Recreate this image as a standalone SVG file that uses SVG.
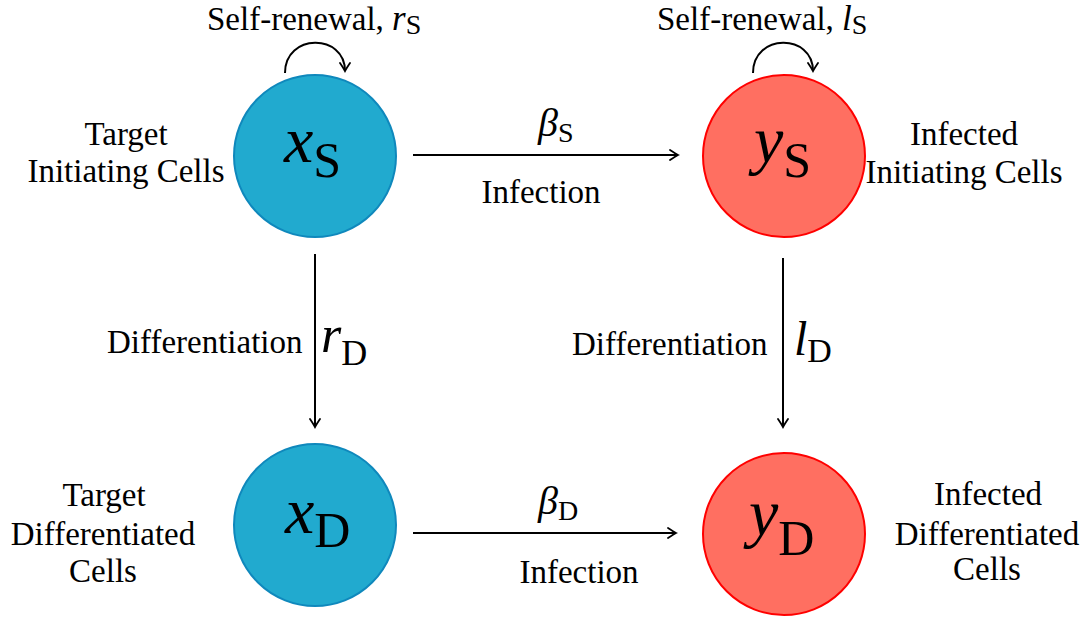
<svg xmlns="http://www.w3.org/2000/svg" width="1088" height="617" viewBox="0 0 1088 617">
<defs>
<style>
.lbl{font-family:'Liberation Serif','Times New Roman',serif;font-size:33px;fill:#000}
.mid{text-anchor:middle}
.ital{font-style:italic}
.up{font-style:normal}
.blue{fill:#21aacf;stroke:#0f88bc;stroke-width:2}
.red{fill:#ff6f61;stroke:#ff0000;stroke-width:2}
.edge{fill:none;stroke:#000;stroke-width:2;marker-end:url(#ah)}
</style>
<marker id="ah" viewBox="-10 -6 12 12" markerWidth="12" markerHeight="12" refX="0" refY="0" orient="auto" markerUnits="userSpaceOnUse">
<path d="M-8,-5 Q-2,-1 0,0 Q-2,1 -8,5" fill="none" stroke="#000" stroke-width="1.8" stroke-linecap="round"/>
</marker>
</defs>
<rect width="1088" height="617" fill="#fff"/>
<g id="connectors">
<path class="edge" d="M413,155 L678,155"/>
<path class="edge" d="M413,533 L676,533"/>
<path class="edge" d="M315,254 L315,427"/>
<path class="edge" d="M783,258 L783,427"/>
<path class="edge" d="M285,73 C285,33 345,33 345,71"/>
<path class="edge" d="M753,73 C753,33 813,33 813,71"/>
<text class="lbl" x="207" y="30">Self-renewal, <tspan class="ital" font-size="35">r</tspan><tspan class="up" font-size="28" dy="4">S</tspan></text>
<text class="lbl" x="657" y="30">Self-renewal, <tspan class="ital" font-size="35">l</tspan><tspan class="up" font-size="28" dy="4">S</tspan></text>
<text class="lbl" x="538" y="136"><tspan class="ital" font-size="40">β</tspan><tspan class="up" font-size="28" dy="6">S</tspan></text>
<text class="lbl mid" x="541" y="203">Infection</text>
<text class="lbl" x="538" y="514"><tspan class="ital" font-size="40">β</tspan><tspan class="up" font-size="28" dy="6">D</tspan></text>
<text class="lbl mid" x="579" y="583">Infection</text>
<text class="lbl" x="107" y="353">Differentiation</text>
<text class="lbl" x="321" y="352"><tspan class="ital" font-size="52">r</tspan><tspan class="up" font-size="36" dy="13">D</tspan></text>
<text class="lbl" x="572" y="355">Differentiation</text>
<text class="lbl" x="794" y="355"><tspan class="ital" font-size="48">l</tspan><tspan class="up" font-size="34" dy="7">D</tspan></text>
</g>
<g id="xS">
<circle class="blue" cx="315" cy="156" r="81"/>
<text class="lbl" x="284" y="162"><tspan class="ital" font-size="66">x</tspan><tspan class="up" font-size="50" dy="15">S</tspan></text>
<text class="lbl mid" x="126" y="145">Target</text>
<text class="lbl mid" x="126" y="182">Initiating Cells</text>
</g>
<g id="yS">
<circle class="red" cx="784" cy="156" r="81"/>
<text class="lbl" x="754" y="162"><tspan class="ital" font-size="66">y</tspan><tspan class="up" font-size="50" dy="15">S</tspan></text>
<text class="lbl mid" x="964" y="145">Infected</text>
<text class="lbl mid" x="964" y="183">Initiating Cells</text>
</g>
<g id="xD">
<circle class="blue" cx="315" cy="525" r="81"/>
<text class="lbl" x="285" y="533"><tspan class="ital" font-size="66">x</tspan><tspan class="up" font-size="50" dy="14">D</tspan></text>
<text class="lbl mid" x="104" y="506">Target</text>
<text class="lbl mid" x="103" y="545">Differentiated</text>
<text class="lbl mid" x="103" y="582">Cells</text>
</g>
<g id="yD">
<circle class="red" cx="784" cy="534" r="81"/>
<text class="lbl" x="749" y="535"><tspan class="ital" font-size="66">y</tspan><tspan class="up" font-size="50" dy="20">D</tspan></text>
<text class="lbl mid" x="988" y="505">Infected</text>
<text class="lbl mid" x="987" y="545">Differentiated</text>
<text class="lbl mid" x="987" y="580">Cells</text>
</g>
</svg>
